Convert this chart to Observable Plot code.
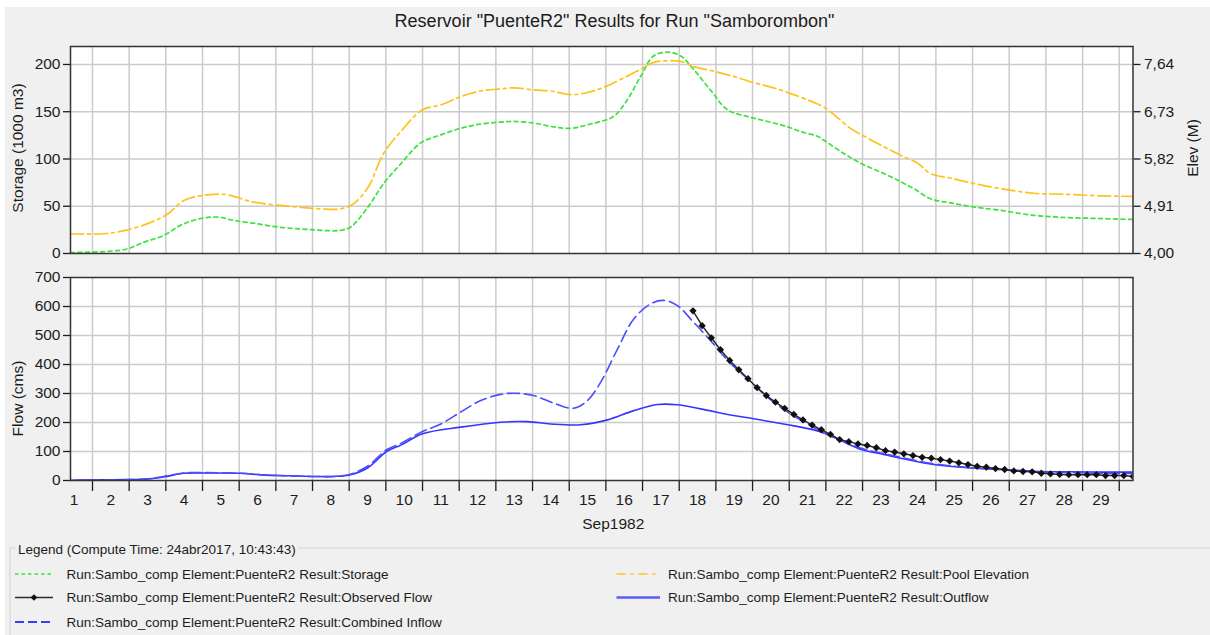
<!DOCTYPE html>
<html><head><meta charset="utf-8">
<script src="https://cdn.jsdelivr.net/npm/d3@7"></script>
<script src="https://cdn.jsdelivr.net/npm/@observablehq/plot@0.6"></script>
<style>
html,body{margin:0;padding:0;background:#fff;overflow:hidden;}
#root{position:relative;width:1210px;height:635px;overflow:hidden;font-family:'Liberation Sans',Arial,sans-serif;}
#panel{position:absolute;left:5px;top:7px;right:0;bottom:0;background:#f0f0f0;}
#top,#bottom,#overlay{position:absolute;left:0;}
#top{top:0px;}
#bottom{top:260px;}
#overlay{top:0px;}
</style></head>
<body><div id="root"><div id="panel"></div><div id="top"></div><div id="bottom"></div><svg id="overlay" width="1210" height="635"></svg></div>
<script>
// ---------------- DATA (days of Sep 1982, fractional) ----------------
const xDomain = [1.4, 30.375];
const dayBounds = [2,3,4,5,6,7,8,9,10,11,12,13,14,15,16,17,18,19,20,21,22,23,24,25,26,27,28,29,30];
const dayLabels = [1,2,3,4,5,6,7,8,9,10,11,12,13,14,15,16,17,18,19,20,21,22,23,24,25,26,27,28,29];
const storageTicks = [0, 50, 100, 150, 200];
const elevTicks = [4.00, 4.91, 5.82, 6.73, 7.64];
const flowTicks = [0, 100, 200, 300, 400, 500, 600, 700];

// Storage (1000 m3)
const storage = [[1.4,1],[2.31,2],[2.96,5],[3.40,12],[3.94,19],[4.41,30],[4.95,37],[5.42,38.5],[5.85,35],[6.40,32],[7.05,28],[7.68,26],[8.22,24.5],[8.77,24.5],[9.04,28],[9.51,49],[9.94,74],[10.41,95],[10.95,117],[11.50,125.5],[12.04,132.5],[12.59,137],[13.13,139],[13.49,139.7],[14.03,138],[14.57,134],[15.04,132.5],[15.58,137],[16.21,145],[16.59,163],[16.95,187.5],[17.30,209],[17.68,213],[18.04,209],[18.39,195],[18.85,173],[19.32,152],[19.86,145],[20.41,139.7],[20.96,134],[21.31,129],[21.77,124],[21.94,120],[22.48,106],[22.95,95.4],[23.57,84.8],[24.04,75.9],[24.39,68.8],[24.85,58],[25.40,53.5],[26.03,49.3],[26.76,45.7],[27.66,40.4],[28.58,38],[29.48,37],[30.375,36]];

// Pool elevation (M)
const poolElevation = [[1.4,4.38],[2.31,4.38],[2.96,4.455],[3.59,4.60],[4.05,4.76],[4.49,5.02],[5.14,5.13],[5.69,5.13],[6.32,5.00],[7.05,4.93],[7.68,4.89],[8.22,4.86],[8.77,4.86],[9.12,4.96],[9.51,5.27],[9.94,5.93],[10.41,6.35],[11.0,6.77],[11.5,6.86],[12.04,7.02],[12.59,7.13],[13.13,7.17],[13.49,7.19],[14.03,7.15],[14.49,7.13],[15.04,7.06],[15.5,7.10],[15.94,7.20],[16.4,7.35],[16.95,7.55],[17.3,7.68],[17.68,7.71],[18.04,7.70],[18.39,7.60],[18.94,7.51],[19.48,7.41],[20.03,7.29],[20.57,7.19],[21.12,7.06],[21.77,6.88],[21.94,6.82],[22.21,6.68],[22.67,6.41],[23.14,6.22],[23.68,6.02],[24.04,5.89],[24.5,5.74],[24.85,5.54],[25.4,5.45],[26.03,5.35],[26.76,5.25],[27.66,5.16],[28.58,5.14],[29.48,5.11],[30.375,5.10]];

// Combined inflow (cms)
const combinedInflow = [[1.4,0],[2.0,2],[3.0,3],[3.5,6],[3.94,14],[4.49,26],[5.0,27],[6.02,25],[6.59,20],[7.05,17],[8.01,14],[8.58,14],[9.01,21],[9.51,50],[10.02,106],[10.41,128],[11.0,169],[11.5,195],[12.04,236],[12.59,276],[13.13,297],[13.54,301],[14.03,293],[14.57,267],[15.12,249],[15.5,276],[15.86,339],[16.32,454],[16.76,557],[17.22,609],[17.57,621],[17.95,603],[18.39,546],[18.85,483],[19.32,414],[19.86,351],[20.41,287],[20.96,236],[21.5,195],[21.85,170],[22.4,140],[22.99,110],[23.57,93],[24.04,80],[24.94,58],[25.86,45],[26.76,38],[27.66,31],[28.58,27],[29.48,25],[30.375,24]];

// Outflow (cms)
const outflow = [[1.4,0],[2.0,2],[3.0,3],[3.5,5],[3.94,12],[4.49,25],[5.0,26],[6.02,25],[6.59,19.5],[7.05,17],[8.01,14],[8.58,14],[9.01,19],[9.51,44],[10.02,100],[10.41,122],[11.0,161],[12.04,184],[13.13,201],[13.86,203],[14.49,195],[15.31,192],[16.05,209],[16.76,241],[17.41,262],[17.95,261],[18.58,247],[19.48,224],[20.03,213],[20.96,192],[21.31,184],[21.85,168],[22.4,138],[22.99,106],[23.57,90],[24.04,77],[24.94,55],[25.86,44],[26.76,38],[27.66,32],[28.58,30],[29.48,29],[30.375,29]];

// Observed flow (cms), 6-hourly
const observedFlow = [[18.375,585],[18.625,534],[18.875,492],[19.125,451],[19.375,414],[19.625,382],[19.875,351],[20.125,320],[20.375,293],[20.625,270],[20.875,249],[21.125,228],[21.375,209],[21.625,191],[21.875,175],[22.125,159],[22.375,141],[22.625,134],[22.875,126],[23.125,121],[23.375,113],[23.625,103],[23.875,98],[24.125,92],[24.375,86],[24.625,80],[24.875,77],[25.125,72],[25.375,67],[25.625,61],[25.875,55],[26.125,49],[26.375,46],[26.625,41],[26.875,38],[27.125,33],[27.375,31],[27.625,30],[27.875,25],[28.125,23],[28.375,21],[28.625,20],[28.875,20],[29.125,20],[29.375,20],[29.625,17],[29.875,17],[30.125,17],[30.375,14]];

const legendTitle = "Legend (Compute Time: 24abr2017, 10:43:43)";
const seriesNames = {
  storage: "Run:Sambo_comp Element:PuenteR2 Result:Storage",
  observed: "Run:Sambo_comp Element:PuenteR2 Result:Observed Flow",
  inflow: "Run:Sambo_comp Element:PuenteR2 Result:Combined Inflow",
  pool: "Run:Sambo_comp Element:PuenteR2 Result:Pool Elevation",
  outflow: "Run:Sambo_comp Element:PuenteR2 Result:Outflow"
};

// ---------------- STYLE ----------------
const FONT = "'Liberation Sans', Arial, sans-serif";
const C = {storage:"#3de23d", pool:"#ffc21a", inflow:"#4d4dff", outflow:"#3535ff", observed:"#2a2a2a", grid:"#cbcbcb", frame:"#333"};
const DASH = {storage:"4,3.5", pool:"13,4,3,4", inflow:"12,5"};
const CURVE = "catmull-rom";

// elevation <-> storage-axis mapping (right axis shares the left axis' pixels)
const eLo = elevTicks[0], eHi = elevTicks[elevTicks.length-1];
const sLo = storageTicks[0], sHi = storageTicks[storageTicks.length-1];
const elevToS = e => sLo + (e - eLo) / (eHi - eLo) * (sHi - sLo);
const sToElev = s => eLo + (s - sLo) / (sHi - sLo) * (eHi - eLo);

const rows = arr => arr.map(([x, y]) => ({x, y}));
const baseStyle = {background:"none", fontFamily:FONT, fontSize:"15.5px", color:"#1c1c1c", overflow:"visible"};

const topPlot = Plot.plot({
  width: 1210, height: 260,
  marginLeft: 70, marginRight: 77.5, marginTop: 46, marginBottom: 7,
  style: baseStyle,
  x: {domain: xDomain, axis: null},
  y: {domain: [0, 219], axis: null},
  marks: [
    Plot.frame({fill: "white", stroke: "none"}),
    Plot.gridX(dayBounds, {stroke: C.grid, strokeOpacity: 1, strokeWidth: 1.5}),
    Plot.gridY(storageTicks.slice(1), {stroke: C.grid, strokeOpacity: 1, strokeWidth: 1.5}),
    Plot.axisY(storageTicks, {anchor: "left", tickSize: 7, tickPadding: 3, strokeWidth: 1.3, label: null}),
    Plot.axisY(elevTicks.map(elevToS), {anchor: "right", tickSize: 7, tickPadding: 4, strokeWidth: 1.3, label: null,
      tickFormat: s => sToElev(s).toFixed(2).replace(".", ",")}),
    Plot.line(rows(storage), {x: "x", y: "y", stroke: C.storage, strokeWidth: 1.7, strokeDasharray: DASH.storage, curve: CURVE, clip: true}),
    Plot.line(rows(poolElevation), {x: "x", y: d => elevToS(d.y), stroke: C.pool, strokeWidth: 1.7, strokeDasharray: DASH.pool, curve: CURVE, clip: true}),
    Plot.frame({stroke: C.frame, strokeWidth: 1.5})
  ]
});
document.getElementById("top").appendChild(topPlot);

const bottomPlot = Plot.plot({
  width: 1210, height: 275,
  marginLeft: 70, marginRight: 77.5, marginTop: 17, marginBottom: 55,
  style: baseStyle,
  x: {domain: xDomain, axis: null},
  y: {domain: [0, 700], axis: null},
  marks: [
    Plot.frame({fill: "white", stroke: "none"}),
    Plot.gridX(dayBounds, {stroke: C.grid, strokeOpacity: 1, strokeWidth: 1.5}),
    Plot.gridY(flowTicks.slice(1, -1), {stroke: C.grid, strokeOpacity: 1, strokeWidth: 1.5}),
    Plot.axisY(flowTicks, {anchor: "left", tickSize: 7, tickPadding: 3, strokeWidth: 1.3, label: null}),
    Plot.axisX(dayBounds, {anchor: "bottom", tickSize: 11, strokeWidth: 1.3, tickFormat: () => "", label: null}),
    Plot.axisX(dayLabels.map(d => d + 0.5), {anchor: "bottom", tickSize: 0, tickPadding: 13, label: null,
      tickFormat: d => String(dayLabels[Math.round(d - 0.5) - 1])}),
    Plot.line(rows(outflow), {x: "x", y: "y", stroke: C.outflow, strokeWidth: 1.6, curve: CURVE, clip: true}),
    Plot.line(rows(combinedInflow), {x: "x", y: "y", stroke: C.inflow, strokeWidth: 1.6, strokeDasharray: DASH.inflow, curve: CURVE, clip: true}),
    Plot.line(rows(observedFlow), {x: "x", y: "y", stroke: C.observed, strokeWidth: 1.5, clip: true}),
    Plot.dot(rows(observedFlow), {x: "x", y: "y", symbol: "diamond2", r: 3.3, fill: "#111", stroke: "none", clip: true}),
    Plot.frame({stroke: C.frame, strokeWidth: 1.5})
  ]
});
document.getElementById("bottom").appendChild(bottomPlot);

// ---------------- TEXT + LEGEND OVERLAY ----------------
const ov = d3.select("#overlay").style("font-family", FONT);
function txt(x, y, s, size, opts = {}) {
  const t = ov.append("text").attr("x", x).attr("y", y).attr("font-size", size).attr("fill", opts.fill || "#1c1c1c").text(s);
  if (opts.anchor) t.attr("text-anchor", opts.anchor);
  if (opts.rotate) t.attr("x", 0).attr("y", 0).attr("transform", `translate(${x},${y}) rotate(-90)`);
  return t;
}
txt(614.5, 26.7, 'Reservoir "PuenteR2" Results for Run "Samborombon"', 18, {anchor: "middle"});
txt(22.5, 148, "Storage (1000 m3)", 15.5, {anchor: "middle", rotate: true});
txt(22.5, 398.5, "Flow (cms)", 15.5, {anchor: "middle", rotate: true});
txt(1197.5, 148, "Elev (M)", 15.5, {anchor: "middle", rotate: true});
txt(613.3, 529, "Sep1982", 15.5, {anchor: "middle"});

// legend
const lt = txt(18, 554, legendTitle, 13.5);
const tw = lt.node().getComputedTextLength();
ov.append("path").attr("d", `M10,640V548H15M${18 + tw + 3},548H1215`).attr("fill", "none").attr("stroke", "#d2d2d2").attr("stroke-width", 1);

function sample(x0, x1, y, stroke, dash, width) {
  ov.append("line").attr("x1", x0).attr("x2", x1).attr("y1", y).attr("y2", y)
    .attr("stroke", stroke).attr("stroke-width", width || 1.5).attr("stroke-dasharray", dash || null);
}
const LX0 = 15, LX1 = 53, LTX = 66.5, RX0 = 616.5, RX1 = 660, RTX = 668;
const rowsY = [578.5, 602, 626.5];
sample(LX0, LX1, rowsY[0] - 4.5, C.storage, "3.5,3", 1.5);
txt(LTX, rowsY[0], seriesNames.storage, 13.5);
sample(LX0, LX1, rowsY[1] - 4.5, C.observed, null, 1.5);
ov.append("path").attr("d", d3.symbol(d3.symbolDiamond2, 28)()).attr("transform", `translate(${(LX0 + LX1) / 2},${rowsY[1] - 4.5})`).attr("fill", "#111");
txt(LTX, rowsY[1], seriesNames.observed, 13.5);
sample(LX0, LX1, rowsY[2] - 4.5, "#3b3bff", "9,4", 1.8);
txt(LTX, rowsY[2], seriesNames.inflow, 13.5);
sample(RX0, RX1, rowsY[0] - 4.5, C.pool, "9,5,3,5", 1.5);
txt(RTX, rowsY[0], seriesNames.pool, 13.5);
sample(RX0, RX1, rowsY[1] - 4.5, "#5a5aff", null, 2.5);
txt(RTX, rowsY[1], seriesNames.outflow, 13.5);
</script></body></html>
